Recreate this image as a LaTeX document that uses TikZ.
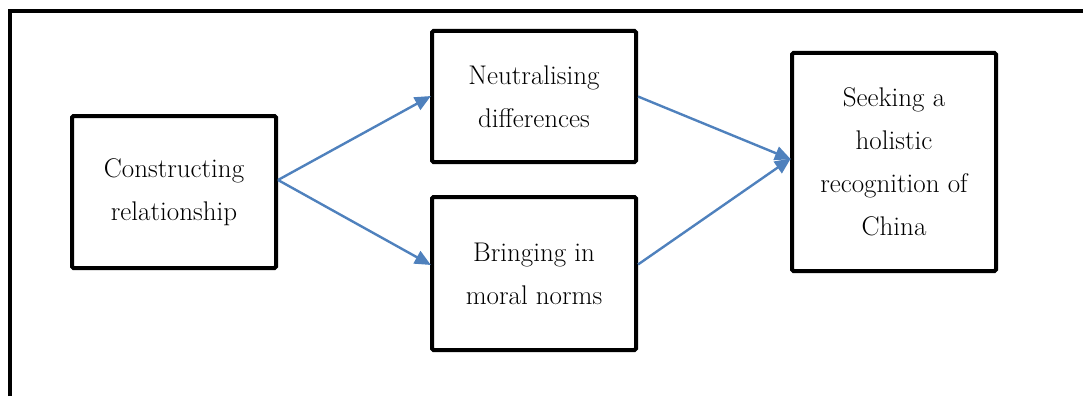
\documentclass[tikz,border=0pt]{standalone}
\usetikzlibrary{arrows.meta,calc}
\begin{document}
\begin{tikzpicture}[x=1pt,y=-1pt,
  stagebox/.style={draw=black,line width=4pt,rounded corners=1.5pt,
    minimum width=204pt,align=center,inner sep=0pt,
    font=\fontsize{27}{43}\selectfont},
  flow/.style={draw={rgb,255:red,79;green,129;blue,189},line width=2.4pt,
    -{Triangle[length=16pt,width=14pt]},shorten >=-1pt}]
\useasboundingbox (0,0) rectangle (1083,396);
% outer frame, running off the right and bottom edges
\draw[line width=4pt] (10,396) -- (10,11) -- (1083,11);
% stages
\node[stagebox,minimum height=152pt] (rel) at (174,192) {Constructing\\relationship};
\node[stagebox,minimum height=131pt] (neu) at (534,96.5) {Neutralising\\differences};
\node[stagebox,minimum height=153pt] (mor) at (534,273.5) {Bringing in\\moral norms};
\node[stagebox,minimum height=218pt] (hol) at (894,162) {Seeking a\\holistic\\recognition of\\China};
% flows between stages
\coordinate (relout) at ($(rel.east)+(0,-12)$);
\coordinate (morin) at ($(mor.west)+(0,-9)$);
\coordinate (morout) at ($(mor.east)+(0,-9)$);
\coordinate (holin) at ($(hol.west)+(0,-3)$);
\draw[flow] (relout) -- (neu.west);
\draw[flow] (relout) -- (morin);
\draw[flow] (neu.east) -- (holin);
\draw[flow] (morout) -- (holin);
\end{tikzpicture}
\end{document}
